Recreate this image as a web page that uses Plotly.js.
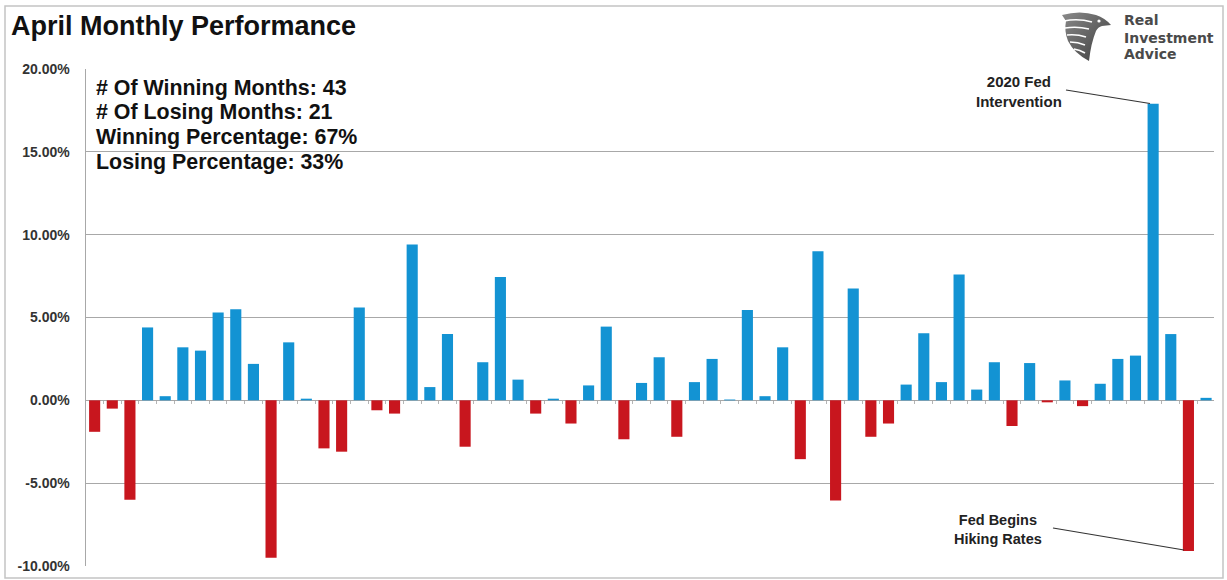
<!DOCTYPE html>
<html>
<head>
<meta charset="utf-8">
<script src="https://cdn.plot.ly/plotly-3.0.1.min.js"></script>
<style>
  html, body { margin: 0; padding: 0; background: #fff; }
  #chart { width: 1227px; height: 580px; }
</style>
</head>
<body>
<div id="chart"></div>
<script>
// April monthly returns (%), one bar per year
const returns = [
  -1.9, -0.5, -6.0, 4.4, 0.25, 3.2, 3.0, 5.3, 5.5, 2.2,
  -9.5, 3.5, 0.1, -2.9, -3.1, 5.6, -0.6, -0.8, 9.4, 0.8,
  4.0, -2.8, 2.3, 7.45, 1.25, -0.8, 0.1, -1.4, 0.9, 4.45,
  -2.35, 1.05, 2.6, -2.2, 1.1, 2.5, 0.05, 5.45, 0.25, 3.2,
  -3.55, 9.0, -6.05, 6.75, -2.2, -1.4, 0.95, 4.05, 1.1, 7.6,
  0.65, 2.3, -1.55, 2.25, -0.12, 1.2, -0.35, 1.0, 2.5, 2.7,
  17.9, 4.0, -9.1, 0.15
];
const yTickVals = [-10, -5, 0, 5, 10, 15, 20];
const yTickText = ["-10.00%", "-5.00%", "0.00%", "5.00%", "10.00%", "15.00%", "20.00%"];
const statLines = [
  "# Of Winning Months: 43",
  "# Of Losing Months: 21",
  "Winning Percentage: 67%",
  "Losing Percentage: 33%"
];
const chartTitle = "April Monthly Performance";
const logoLines = ["Real", "Investment", "Advice"];
const noteTop = "2020 Fed<br>Intervention";
const noteBottom = "Fed Begins<br>Hiking Rates";

const BLUE = "#1393d3";
const RED = "#c8161e";

const xIdx = returns.map((_, i) => i);
const colors = returns.map(v => v >= 0 ? BLUE : RED);
const boundaryTicks = [];
for (let k = -1; k < returns.length; k++) boundaryTicks.push(k + 0.5);

// pixel -> paper helpers (plot area: left 86, top 69, 1128 x 497)
const L = 86, T = 69, W = 1128, H = 497;
const px = x => (x - L) / W;
const py = y => (T + H - y) / H;

const FONT = '"Liberation Sans", Arial, sans-serif';
const LOGO_FONT = '"DejaVu Sans", "Liberation Sans", sans-serif';

const trace = {
  type: "bar",
  x: xIdx,
  y: returns,
  marker: { color: colors, line: { width: 0 } },
  hoverinfo: "skip"
};

const annotations = [];
annotations.push({
  text: "<b>" + chartTitle + "</b>", xref: "paper", yref: "paper",
  x: px(9), y: py(26), xanchor: "left", yanchor: "middle", showarrow: false,
  font: { family: FONT, size: 27, color: "#111" }
});
const statY = [88, 112.5, 137, 161.5];
statLines.forEach((t, i) => annotations.push({
  text: "<b>" + t + "</b>", xref: "paper", yref: "paper",
  x: px(94), y: py(statY[i]), xanchor: "left", yanchor: "middle", showarrow: false,
  font: { family: FONT, size: 21.4, color: "#111" }
}));
const logoY = [20.5, 37.5, 54.5];
logoLines.forEach((t, i) => annotations.push({
  text: "<b>" + t + "</b>", xref: "paper", yref: "paper",
  x: px(1122), y: py(logoY[i]), xanchor: "left", yanchor: "middle", showarrow: false,
  font: { family: LOGO_FONT, size: 14, color: "#4a4a4a" }
}));
annotations.push({
  text: "<b>" + noteTop + "</b>", xref: "paper", yref: "paper",
  x: px(1019), y: py(92), xanchor: "center", yanchor: "middle", showarrow: false,
  font: { family: FONT, size: 15, color: "#222" }
});
annotations.push({
  text: "<b>" + noteBottom + "</b>", xref: "paper", yref: "paper",
  x: px(998), y: py(529), xanchor: "center", yanchor: "middle", showarrow: false,
  font: { family: FONT, size: 14.5, color: "#222" }
});

// eagle logo as a small vector image
const eagleSvg =
  '<svg xmlns="http://www.w3.org/2000/svg" width="56" height="56" viewBox="0 0 56 56">' +
  '<defs><linearGradient id="g" x1="0" y1="0" x2="1" y2="1">' +
  '<stop offset="0" stop-color="#8a8a8a"/><stop offset="1" stop-color="#3c3c3c"/></linearGradient></defs>' +
  '<path d="M4 6 Q22 1 38 6 Q47 9 53 16 L44 17 Q40 18 38 22 Q33 34 31 52 Q16 44 10 32 Q6 22 8 12 Z" fill="url(#g)"/>' +
  '<path d="M6 12 Q20 9 34 13 M7 19 Q19 17 31 20 M9 26 Q19 25 28 28 M12 33 Q20 33 27 36 M16 40 Q22 41 27 44" ' +
  'stroke="#fff" stroke-width="1.6" fill="none"/>' +
  '<circle cx="41" cy="12" r="1.6" fill="#fff"/></svg>';
const images = [{
  source: "data:image/svg+xml;base64," + btoa(eagleSvg),
  xref: "paper", yref: "paper", x: px(1058), y: py(9),
  sizex: 56 / W, sizey: 56 / H, xanchor: "left", yanchor: "top", layer: "above"
}];

const shapes = [
  { type: "rect", xref: "paper", yref: "paper", x0: px(5), x1: px(1223), y0: py(6), y1: py(578),
    line: { color: "#c4c4c4", width: 1.5 }, fillcolor: "rgba(0,0,0,0)", layer: "below" },
  { type: "line", xref: "paper", yref: "paper", x0: px(1066), y0: py(90), x1: px(1150), y1: py(103.5),
    line: { color: "#333", width: 1.2 } },
  { type: "line", xref: "paper", yref: "paper", x0: px(1053), y0: py(528), x1: px(1184), y1: py(550),
    line: { color: "#333", width: 1.2 } }
];

const layout = {
  width: 1227, height: 580,
  margin: { l: L, r: 1227 - L - W, t: T, b: 580 - T - H, pad: 0 },
  paper_bgcolor: "#ffffff", plot_bgcolor: "#ffffff",
  showlegend: false,
  bargap: 0.37,
  font: { family: FONT, color: "#333" },
  xaxis: {
    type: "linear", range: [-0.49, 63.45], fixedrange: true,
    anchor: "free", position: 10 / 30,
    showgrid: false, zeroline: false, showline: false,
    tickmode: "array", tickvals: boundaryTicks, ticktext: boundaryTicks.map(() => ""),
    ticks: "outside", ticklen: 3, tickcolor: "#b5b5b5", tickwidth: 1
  },
  yaxis: {
    range: [-10, 20], fixedrange: true,
    tickmode: "array", tickvals: yTickVals, ticktext: yTickText,
    showgrid: true, gridcolor: "#a8a8a8", gridwidth: 1,
    zeroline: false, showline: true, linecolor: "#a8a8a8", linewidth: 1.5,
    ticks: "", ticklabelstandoff: 12,
    tickfont: { family: FONT, size: 14, color: "#333", weight: "bold" }
  },
  annotations: annotations,
  shapes: shapes,
  images: images
};

Plotly.newPlot("chart", [trace], layout, { displayModeBar: false, staticPlot: true });
</script>
</body>
</html>
